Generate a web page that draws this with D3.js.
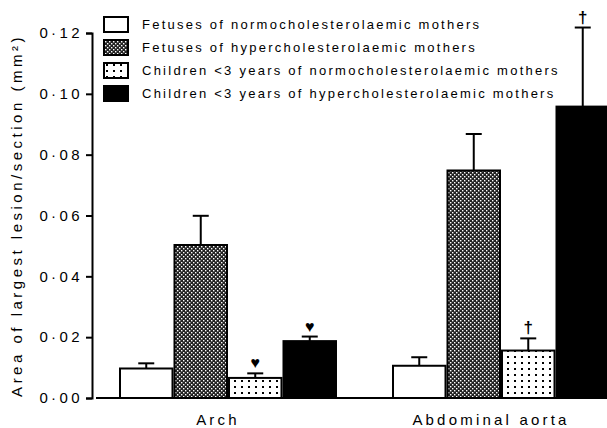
<!DOCTYPE html>
<html>
<head>
<meta charset="utf-8">
<script src="https://cdn.jsdelivr.net/npm/d3@7"></script>
<style>
  html, body { margin: 0; padding: 0; background: #fff; }
  svg { display: block; }
  text { font-family: "Liberation Sans", Arial, sans-serif; fill: #000; }
</style>
</head>
<body>
<div id="chart"></div>
<script>
// Lesion area by site and group
const categories = ["Arch", "Abdominal aorta"];
const seriesNames = [
  "Fetuses of normocholesterolaemic mothers",
  "Fetuses of hypercholesterolaemic mothers",
  "Children <3 years of normocholesterolaemic mothers",
  "Children <3 years of hypercholesterolaemic mothers"
];
const archMeans = [0.0097, 0.0503, 0.0066, 0.0187];
const archErrors = [0.0017, 0.0096, 0.0015, 0.0015];
const aortaMeans = [0.0106, 0.0748, 0.0156, 0.0958];
const aortaErrors = [0.0028, 0.0120, 0.0040, 0.0260];
const archMarks = ["", "", "\u2665", "\u2665"];
const aortaMarks = ["", "", "\u2020", "\u2020"];
const yTicks = [0, 0.02, 0.04, 0.06, 0.08, 0.10, 0.12];
const yTitle = "Area of largest lesion/section (mm\u00b2)";

const W = 607, H = 428;
const svg = d3.select("#chart").append("svg").attr("width", W).attr("height", H);

// Fill patterns for the four groups
const defs = svg.append("defs");
const pHyper = defs.append("pattern").attr("id", "pHyper")
  .attr("patternUnits", "userSpaceOnUse").attr("width", 4).attr("height", 4);
pHyper.append("rect").attr("width", 4).attr("height", 4).attr("fill", "#222");
pHyper.append("rect").attr("x", 0).attr("y", 0).attr("width", 1.4).attr("height", 1.4).attr("fill", "#fff");
pHyper.append("rect").attr("x", 2).attr("y", 2).attr("width", 1.4).attr("height", 1.4).attr("fill", "#fff");

const pDots = defs.append("pattern").attr("id", "pDots")
  .attr("patternUnits", "userSpaceOnUse").attr("width", 7).attr("height", 6);
pDots.append("rect").attr("width", 7).attr("height", 6).attr("fill", "#fff");
pDots.append("rect").attr("x", 3).attr("y", 2).attr("width", 2).attr("height", 2).attr("fill", "#000");

const fills = ["#fff", "url(#pHyper)", "url(#pDots)", "#000"];

const y = d3.scaleLinear().domain([0, 0.12]).range([398, 33]);
const x0 = d3.scaleBand().domain(categories).range([119, 610]).paddingInner(0.2015).paddingOuter(0);
const x1 = d3.scaleBand().domain(d3.range(4)).range([0, x0.bandwidth()]);

const data = categories.map((c, i) => ({
  cat: c,
  items: (i === 0 ? archMeans : aortaMeans).map((v, j) => ({
    s: j, v,
    e: (i === 0 ? archErrors : aortaErrors)[j],
    m: (i === 0 ? archMarks : aortaMarks)[j]
  }))
}));

// Y axis
const yAxis = d3.axisLeft(y).tickValues(yTicks).tickSize(6).tickPadding(3)
  .tickFormat(d => d3.format(".2f")(d).replace(".", "\u00b7"));
const gy = svg.append("g").attr("transform", "translate(92,0)").call(yAxis);
gy.select(".domain").attr("stroke", "#000").attr("stroke-width", 2);
gy.selectAll(".tick line").attr("stroke", "#000").attr("stroke-width", 2);
gy.selectAll(".tick text").style("font-size", "15px").style("letter-spacing", "3.4px")
  .style("font-family", "'Liberation Sans', Arial, sans-serif").attr("fill", "#000");

svg.append("text")
  .attr("transform", `translate(22,${(33 + 398) / 2}) rotate(-90)`)
  .attr("text-anchor", "middle")
  .style("font-size", "15px").style("letter-spacing", "3.5px")
  .text(yTitle);

// Bars
const groups = svg.append("g").selectAll("g").data(data).join("g")
  .attr("transform", d => `translate(${x0(d.cat)},0)`);

groups.selectAll("line.err").data(d => d.items).join("line").attr("class", "err")
  .attr("x1", d => x1(d.s) + x1.bandwidth() / 2)
  .attr("x2", d => x1(d.s) + x1.bandwidth() / 2)
  .attr("y1", d => y(d.v)).attr("y2", d => y(d.v + d.e))
  .attr("stroke", "#000").attr("stroke-width", 2);
groups.selectAll("line.cap").data(d => d.items).join("line").attr("class", "cap")
  .attr("x1", d => x1(d.s) + x1.bandwidth() / 2 - 8)
  .attr("x2", d => x1(d.s) + x1.bandwidth() / 2 + 8)
  .attr("y1", d => y(d.v + d.e)).attr("y2", d => y(d.v + d.e))
  .attr("stroke", "#000").attr("stroke-width", 2);

groups.selectAll("rect").data(d => d.items).join("rect")
  .attr("x", d => x1(d.s) + 1)
  .attr("y", d => y(d.v))
  .attr("width", x1.bandwidth() - 2)
  .attr("height", d => y(0) - y(d.v))
  .attr("fill", d => fills[d.s])
  .attr("stroke", "#000").attr("stroke-width", 2);

groups.selectAll("text.mark").data(d => d.items.filter(it => it.m)).join("text").attr("class", "mark")
  .attr("x", d => x1(d.s) + x1.bandwidth() / 2)
  .attr("y", d => y(d.v + d.e) - 5)
  .attr("text-anchor", "middle")
  .style("font-size", d => d.m === "\u2020" ? "17px" : "16px")
  .style("font-weight", "bold")
  .text(d => d.m);

// Baseline
svg.append("line").attr("x1", 96).attr("x2", W).attr("y1", y(0)).attr("y2", y(0))
  .attr("stroke", "#000").attr("stroke-width", 2);

// Category labels
svg.selectAll("text.cat").data(categories).join("text").attr("class", "cat")
  .attr("x", d => x0(d) + x0.bandwidth() / 2 - 10)
  .attr("y", 425)
  .attr("text-anchor", "middle")
  .style("font-size", "15px").style("letter-spacing", "3.2px")
  .text(d => d);

// Legend
const legend = svg.append("g").attr("transform", "translate(103,16)");
const rows = legend.selectAll("g").data(seriesNames).join("g")
  .attr("transform", (d, i) => `translate(0,${i * 23})`);
rows.append("rect").attr("x", 1).attr("y", 1).attr("width", 24).attr("height", 15)
  .attr("fill", (d, i) => fills[i]).attr("stroke", "#000").attr("stroke-width", 2);
rows.append("text").attr("x", 39).attr("y", 13)
  .style("font-size", "13px").style("letter-spacing", "2.25px")
  .text(d => d);
</script>
</body>
</html>
